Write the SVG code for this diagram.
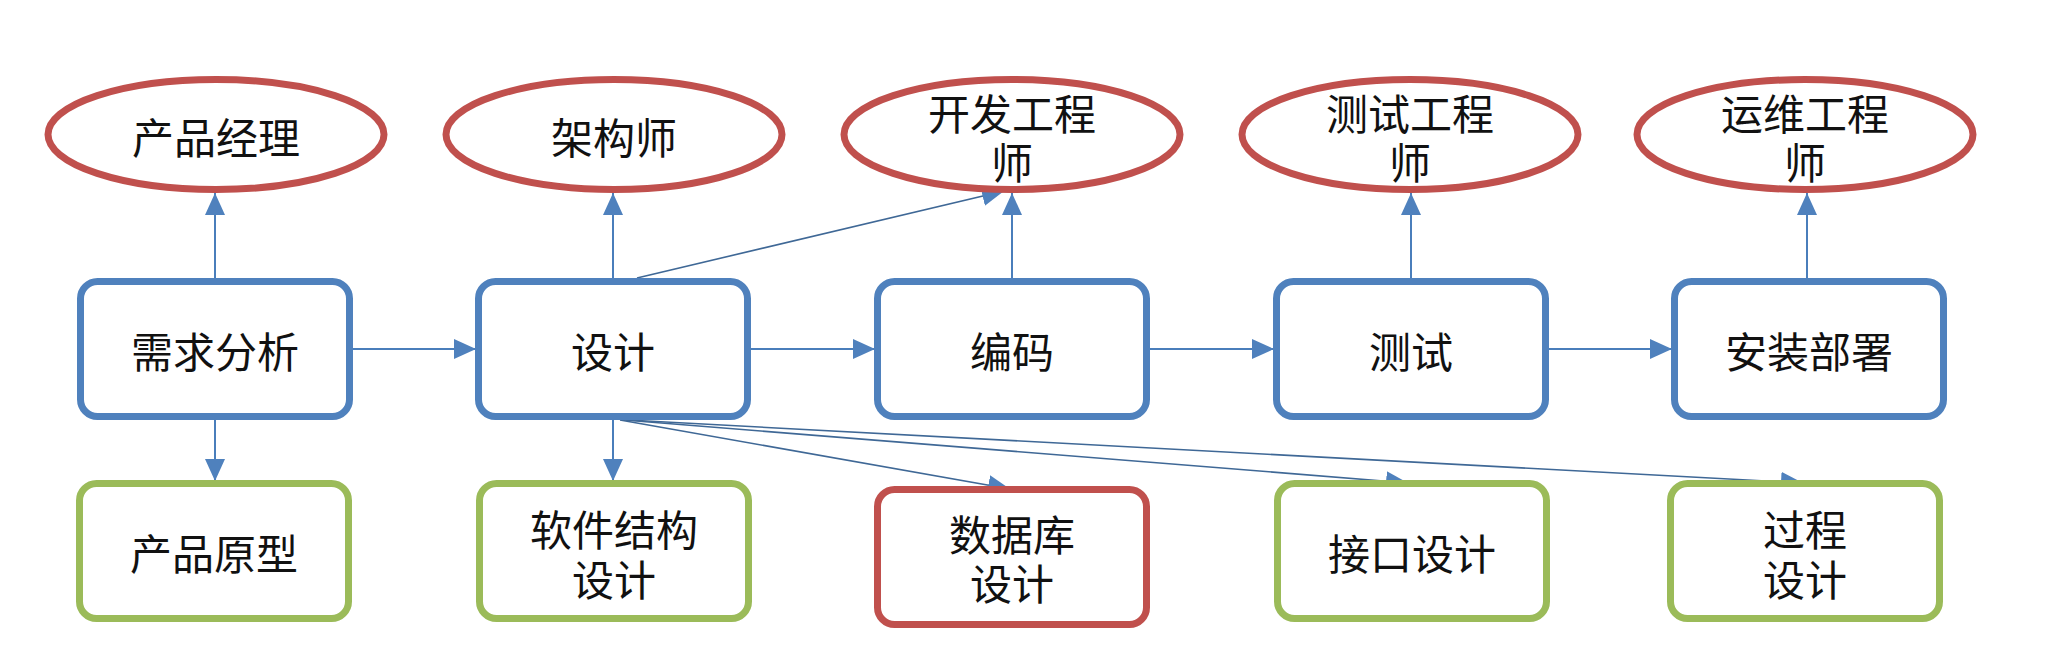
<svg xmlns="http://www.w3.org/2000/svg" width="2057" height="669" viewBox="0 0 2057 669">
<style>
.role{fill:#fff;stroke:#C0504D;stroke-width:7}
.step{fill:#fff;stroke:#4F81BD;stroke-width:7}
.out{fill:#fff;stroke:#9BBB59;stroke-width:7}
.db{fill:#fff;stroke:#C0504D;stroke-width:7}
text{font-family:"Noto Sans CJK SC","Microsoft YaHei",sans-serif;font-size:42px;fill:#111;text-anchor:middle;dominant-baseline:central}
.c{fill:none;stroke:#4A7EBB;stroke-width:2;marker-end:url(#ah)}
.d{fill:none;stroke:#3F6896;stroke-width:1.6;marker-end:url(#ah)}
</style>
<defs>
<marker id="ah" markerUnits="userSpaceOnUse" markerWidth="22" markerHeight="20" refX="22" refY="10" orient="auto">
<path d="M0,0 L22,10 L0,20 z" fill="#4F81BD"/>
</marker>
</defs>
<rect width="2057" height="669" fill="#fff"/>
<g id="connectors">
<line class="c" x1="215" y1="278" x2="215" y2="193"/>
<line class="c" x1="613" y1="278" x2="613" y2="193"/>
<line class="c" x1="1012" y1="278" x2="1012" y2="193"/>
<line class="c" x1="1411" y1="278" x2="1411" y2="193"/>
<line class="c" x1="1807" y1="278" x2="1807" y2="193"/>
<line class="c" x1="353" y1="349" x2="476" y2="349"/>
<line class="c" x1="751" y1="349" x2="875" y2="349"/>
<line class="c" x1="1150" y1="349" x2="1274" y2="349"/>
<line class="c" x1="1549" y1="349" x2="1672" y2="349"/>
<line class="c" x1="215" y1="420" x2="215" y2="481"/>
<line class="c" x1="613" y1="420" x2="613" y2="481"/>
<line class="d" x1="637" y1="278" x2="1004" y2="191"/>
<line class="d" x1="620" y1="420" x2="1010" y2="489"/>
<line class="d" x1="624" y1="420" x2="1408" y2="483"/>
<line class="d" x1="628" y1="420" x2="1803" y2="483"/>
</g>
<g id="pm"><ellipse class="role" cx="216" cy="134.5" rx="168" ry="55"/><text x="216" y="135">产品经理</text></g>
<g id="arch"><ellipse class="role" cx="614" cy="134.5" rx="168" ry="55"/><text x="614" y="135">架构师</text></g>
<g id="dev"><ellipse class="role" cx="1012" cy="134.5" rx="168" ry="55"/><text x="1012" y="111">开发工程<tspan x="1012" y="160">师</tspan></text></g>
<g id="qa"><ellipse class="role" cx="1410" cy="134.5" rx="168" ry="55"/><text x="1410" y="111">测试工程<tspan x="1410" y="160">师</tspan></text></g>
<g id="ops"><ellipse class="role" cx="1805" cy="134.5" rx="168" ry="55"/><text x="1805" y="111">运维工程<tspan x="1805" y="160">师</tspan></text></g>
<g id="req"><rect class="step" x="80.5" y="281.5" width="269" height="135" rx="17"/><text x="215" y="349">需求分析</text></g>
<g id="design"><rect class="step" x="478.5" y="281.5" width="269" height="135" rx="17"/><text x="613" y="349">设计</text></g>
<g id="code"><rect class="step" x="877.5" y="281.5" width="269" height="135" rx="17"/><text x="1012" y="349">编码</text></g>
<g id="test"><rect class="step" x="1276.5" y="281.5" width="269" height="135" rx="17"/><text x="1411" y="349">测试</text></g>
<g id="deploy"><rect class="step" x="1674.5" y="281.5" width="269" height="135" rx="17"/><text x="1809" y="349">安装部署</text></g>
<g id="proto"><rect class="out" x="79.5" y="483.5" width="269" height="135" rx="17"/><text x="214" y="551">产品原型</text></g>
<g id="arch-design"><rect class="out" x="479.5" y="483.5" width="269" height="135" rx="17"/><text x="614" y="527">软件结构<tspan x="614" y="577">设计</tspan></text></g>
<g id="db-design"><rect class="db" x="877.5" y="489.5" width="269" height="135" rx="17"/><text x="1012" y="532">数据库<tspan x="1012" y="581">设计</tspan></text></g>
<g id="if-design"><rect class="out" x="1277.5" y="483.5" width="269" height="135" rx="17"/><text x="1412" y="551">接口设计</text></g>
<g id="proc-design"><rect class="out" x="1670.5" y="483.5" width="269" height="135" rx="17"/><text x="1805" y="527">过程<tspan x="1805" y="577">设计</tspan></text></g>
</svg>
